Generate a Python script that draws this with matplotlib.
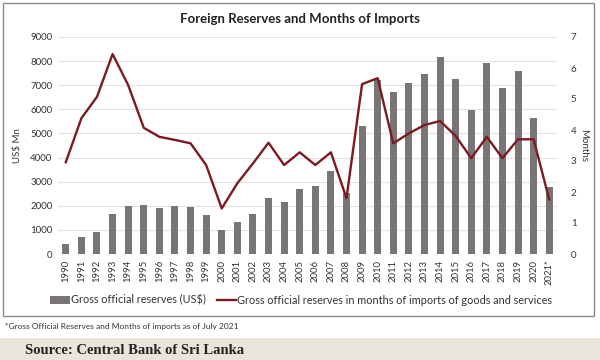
import matplotlib
matplotlib.use("Agg")
import matplotlib.pyplot as plt
from matplotlib.patches import Rectangle
from matplotlib.lines import Line2D
import numpy as np

years = [str(y) for y in range(1990, 2021)] + ["2021*"]
reserves = [400, 690, 925, 1660, 1990, 2030, 1895, 2005, 1965, 1620, 995, 1315,
            1673, 2310, 2170, 2700, 2820, 3460, 2520, 5325, 7200, 6710, 7080, 7470,
            8160, 7260, 5990, 7910, 6890, 7590, 5630, 2780]
months = [2.96, 4.38, 5.07, 6.45, 5.45, 4.07, 3.78, 3.68, 3.57, 2.87, 1.47, 2.28,
          2.92, 3.59, 2.87, 3.28, 2.87, 3.28, 1.80, 5.48, 5.67, 3.57, 3.89, 4.16,
          4.29, 3.81, 3.09, 3.78, 3.09, 3.70, 3.70, 1.76]
left_ticks = list(range(0, 9001, 1000))
right_ticks = list(range(0, 8))

plt.rcParams['font.family'] = ['Lato', 'DejaVu Sans']

fig = plt.figure(figsize=(6, 3.6), dpi=100)
fig.patch.set_facecolor('white')

# chart border
fig.patches.append(Rectangle((3/600, 1-316/360), 591/600, 313/360, transform=fig.transFigure,
                             facecolor='none', edgecolor='#8a8a8a', linewidth=1.0, zorder=0))
# bottom band
fig.patches.append(Rectangle((0, 0), 1, 22/360, transform=fig.transFigure,
                             facecolor='#e8e5da', edgecolor='none', zorder=0))

ax = fig.add_axes([58/600, 1-254/360, 499/600, 217/360])
ax.set_facecolor('none')
x = np.arange(len(years))
ax.bar(x, reserves, width=0.45, color='#7a7575', zorder=2)
ax.set_ylim(0, 9000)
ax.set_xlim(-0.5, len(years)-0.5)
ax.set_yticks(left_ticks)
ax.set_yticklabels([str(t) for t in left_ticks], fontsize=7, color='#333333')
ax.set_xticks(x)
ax.set_xticklabels(years, rotation=90, fontsize=6.8, color='#333333')
ax.yaxis.grid(True, color='#e3e3e3', linewidth=0.8, zorder=0)
ax.set_axisbelow(True)
for s in ax.spines.values():
    s.set_visible(False)
ax.tick_params(axis='both', length=0, pad=4)
ax.set_ylabel('US$ Mn', fontsize=7, color='#333333', labelpad=6)

ax2 = ax.twinx()
ax2.plot(x, months, color='#7b1a22', linewidth=1.7, zorder=3)
ax2.set_ylim(0, 7)
ax2.set_yticks(right_ticks)
ax2.set_yticklabels([str(t) for t in right_ticks], fontsize=7, color='#333333')
for s in ax2.spines.values():
    s.set_visible(False)
ax2.tick_params(axis='y', length=0, pad=10)
ax2.set_ylabel('Months', fontsize=7, color='#333333', rotation=270, labelpad=8)

fig.text(0.5, 1-19/360, 'Foreign Reserves and Months of Imports', ha='center', va='center',
         fontsize=9.5, fontweight='bold', color='#222222')

handles = [Rectangle((0, 0), 1, 1, facecolor='#7a7575', edgecolor='none'),
           Line2D([0], [0], color='#7b1a22', linewidth=1.7)]
fig.legend(handles, ['Gross official reserves (US$)',
                     'Gross official reserves in months of imports of goods and services'],
           loc='center', bbox_to_anchor=(0.502, 1-300/360), ncol=2, frameon=False,
           fontsize=7.8, handlelength=1.8, handletextpad=0.1, columnspacing=1.0,
           labelcolor='#333333')

fig.text(5/600, 1-327/360, '*Gross Official Reserves and Months of imports as of July 2021',
         ha='left', va='center', fontsize=6, color='#333333')
fig.text(25/600, 1-350/360, 'Source: Central Bank of Sri Lanka', ha='left', va='center',
         fontsize=10.5, fontweight='bold', color='#222222', family='Liberation Serif')

fig.savefig('out.png', dpi=100)
